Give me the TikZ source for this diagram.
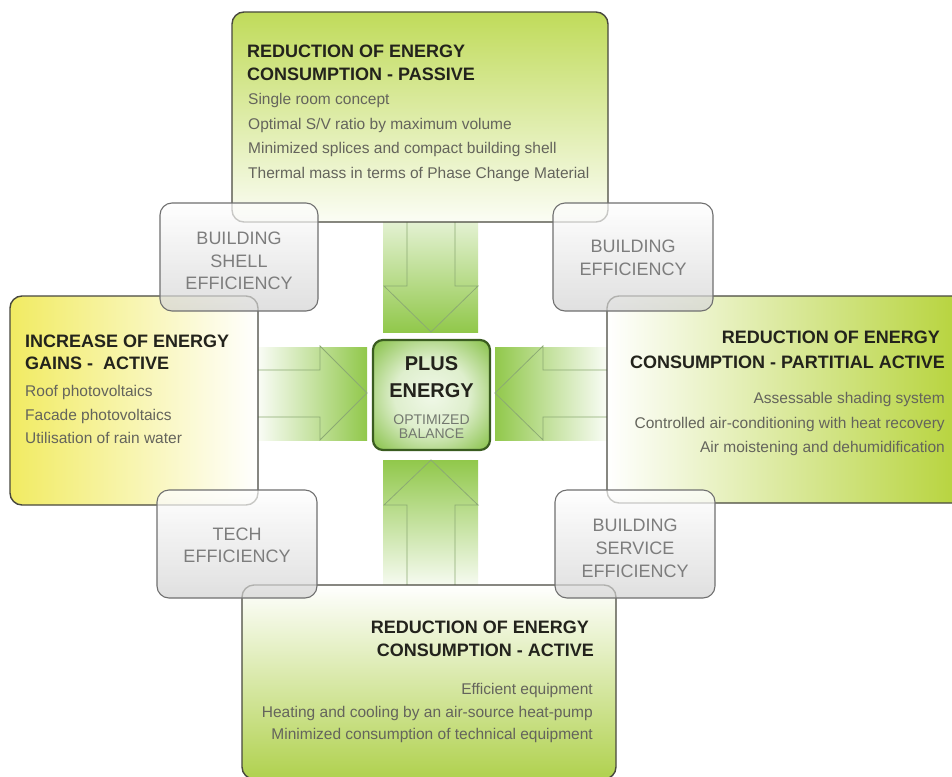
\documentclass[tikz,border=0pt]{standalone}
\usepackage{fontspec}
\setmainfont{Liberation Sans}
\usepackage{xcolor}
\usetikzlibrary{math}

\definecolor{passgreen}{RGB}{192,219,90}
\definecolor{gainyellow}{RGB}{241,235,98}
\definecolor{partgreen}{RGB}{182,211,58}
\definecolor{actgreen}{RGB}{176,209,78}
\definecolor{arrowgreen}{RGB}{145,200,75}
\definecolor{arrowedge}{RGB}{140,170,115}
\definecolor{plusgreen}{RGB}{122,186,52}
\definecolor{plusglow}{RGB}{240,248,232}
\definecolor{plusline}{RGB}{58,92,32}
\definecolor{boxline}{RGB}{72,72,62}
\definecolor{effline}{RGB}{112,112,112}
\definecolor{effgray}{RGB}{212,212,212}
\definecolor{efftext}{RGB}{125,125,125}
\definecolor{itemtext}{RGB}{100,100,92}
\definecolor{headtext}{RGB}{35,35,28}

\pgfdeclareradialshading{plusshade}{\pgfpoint{0bp}{0bp}}{color(0bp)=(plusglow); color(16bp)=(plusglow!85!plusgreen); color(38bp)=(plusgreen); color(70bp)=(plusgreen!90!black)}

\tikzset{
  bigbox/.style={draw=boxline, line width=1.4pt, rounded corners=12pt},
  effbox/.style={draw=effline, line width=1.1pt, rounded corners=12pt,
    top color=white, bottom color=effgray, fill opacity=0.72},
  arrowline/.style={draw=arrowedge, line width=0.8pt},
  head/.style={inner sep=0pt, text=headtext, font=\fontsize{18}{20}\selectfont\bfseries},
  item/.style={inner sep=0pt, text=itemtext, font=\fontsize{15.5}{17}\selectfont},
  efftxt/.style={inner sep=0pt, anchor=base, text=efftext, font=\fontsize{18}{20}\selectfont},
}

\begin{document}
\begin{tikzpicture}[x=1pt,y=-1pt]
\tikzmath{
\cx=431; \cy=393;
\ws=24; \wh=47;
}
\clip (0,0) rectangle (952,776);
\fill[white] (0,0) rectangle (952,776);

% arrows to the middle
\shade[top color=arrowgreen!25, bottom color=arrowgreen] (\cx-48,222) rectangle (\cx+47,332);
\shade[top color=arrowgreen, bottom color=arrowgreen!8] (\cx-48,460) rectangle (\cx+47,585);
\shade[left color=arrowgreen!5, right color=arrowgreen] (258,\cy-46) rectangle (367,\cy+47);
\shade[left color=arrowgreen, right color=arrowgreen!5] (495,\cy-46) rectangle (607,\cy+47);

\draw[arrowline] (\cx-\ws,222) -- (\cx-\ws,286) -- (\cx-\wh,286) -- (\cx,332) -- (\cx+\wh,286) -- (\cx+\ws,286) -- (\cx+\ws,222);
\draw[arrowline] (\cx-\ws,585) -- (\cx-\ws,505) -- (\cx-\wh,505) -- (\cx,460) -- (\cx+\wh,505) -- (\cx+\ws,505) -- (\cx+\ws,585);
\draw[arrowline] (258,\cy-23) -- (320,\cy-23) -- (320,\cy-\wh) -- (367,\cy) -- (320,\cy+\wh) -- (320,\cy+\ws) -- (258,\cy+\ws);
\draw[arrowline] (607,\cy-23) -- (543,\cy-23) -- (543,\cy-\wh) -- (495,\cy) -- (543,\cy+\wh) -- (543,\cy+\ws) -- (607,\cy+\ws);

% the four big boxes
\shade[bigbox, top color=passgreen, bottom color=passgreen!6] (232,12) rectangle (608,222);
\shade[bigbox, left color=gainyellow, right color=white] (10,296) rectangle (258,505);
\shade[bigbox, left color=white, right color=partgreen] (607,296) rectangle (965,503);
\shade[bigbox, top color=white, bottom color=actgreen] (242,585) rectangle (616,779);

\shade[draw=plusline, line width=2.2pt, rounded corners=10pt, shading=plusshade] (373,340) rectangle (490,450);

% efficiency corners
\shade[effbox] (160,203) rectangle (318,311);
\shade[effbox] (553,203) rectangle (713,311);
\shade[effbox] (157,490) rectangle (317,598);
\shade[effbox] (555,490) rectangle (715,598);

\foreach \t [count=\i] in {REDUCTION OF ENERGY, CONSUMPTION - PASSIVE}
  \node[head, anchor=base west] (passhead\i) at (247,36+22*\i) {\t};
\foreach \t [count=\i] in {Single room concept, Optimal S/V ratio by maximum volume, Minimized splices and compact building shell, Thermal mass in terms of Phase Change Material}
  \node[item, anchor=base west] (passitem\i) at (248,80+24.5*\i) {\t};

\foreach \t [count=\i] in {INCREASE OF ENERGY, GAINS - \ ACTIVE}
  \node[head, anchor=base west] (gainhead\i) at (25,325+22*\i) {\t};
\foreach \t [count=\i] in {Roof photovoltaics, Facade photovoltaics, Utilisation of rain water}
  \node[item, anchor=base west] (gainitem\i) at (25,373+23.5*\i) {\t};

\foreach \t/\x [count=\i] in {REDUCTION OF ENERGY/940, CONSUMPTION - PARTITIAL ACTIVE/945}
  \node[head, anchor=base east] (parthead\i) at (\x,318+25*\i) {\t};
\foreach \t [count=\i] in {Assessable shading system, Controlled air-conditioning with heat recovery, Air moistening and dehumidification}
  \node[item, anchor=base east] (partitem\i) at (945,379+24.5*\i) {\t};

\foreach \t/\x [count=\i] in {REDUCTION OF ENERGY/589, CONSUMPTION - ACTIVE/594}
  \node[head, anchor=base east] (acthead\i) at (\x,610+23*\i) {\t};
\foreach \t [count=\i] in {Efficient equipment, Heating and cooling by an air-source heat-pump, Minimized consumption of technical equipment}
  \node[item, anchor=base east] (actitem\i) at (593,672+22.5*\i) {\t};

\foreach \t [count=\i] in {BUILDING, SHELL, EFFICIENCY}
  \node[efftxt] (shell\i) at (239,222+22.5*\i) {\t};
\foreach \t [count=\i] in {BUILDING, EFFICIENCY}
  \node[efftxt] (bldg\i) at (633,229+23*\i) {\t};
\foreach \t [count=\i] in {TECH, EFFICIENCY}
  \node[efftxt] (tech\i) at (237,518+22*\i) {\t};
\foreach \t [count=\i] in {BUILDING, SERVICE, EFFICIENCY}
  \node[efftxt] (service\i) at (635,508+23*\i) {\t};

\node[head, anchor=base, font=\fontsize{20}{22}\selectfont\bfseries] (plus) at (431.5,370) {PLUS};
\node[head, anchor=base, font=\fontsize{20}{22}\selectfont\bfseries] (energy) at (431.5,397) {ENERGY};
\node[efftxt, text=efftext!85!plusline, font=\fontsize{14}{15}\selectfont] (optim) at (431.5,424) {OPTIMIZED};
\node[efftxt, text=efftext!85!plusline, font=\fontsize{14}{15}\selectfont] (balance) at (431.5,438) {BALANCE};

\end{tikzpicture}
\end{document}
